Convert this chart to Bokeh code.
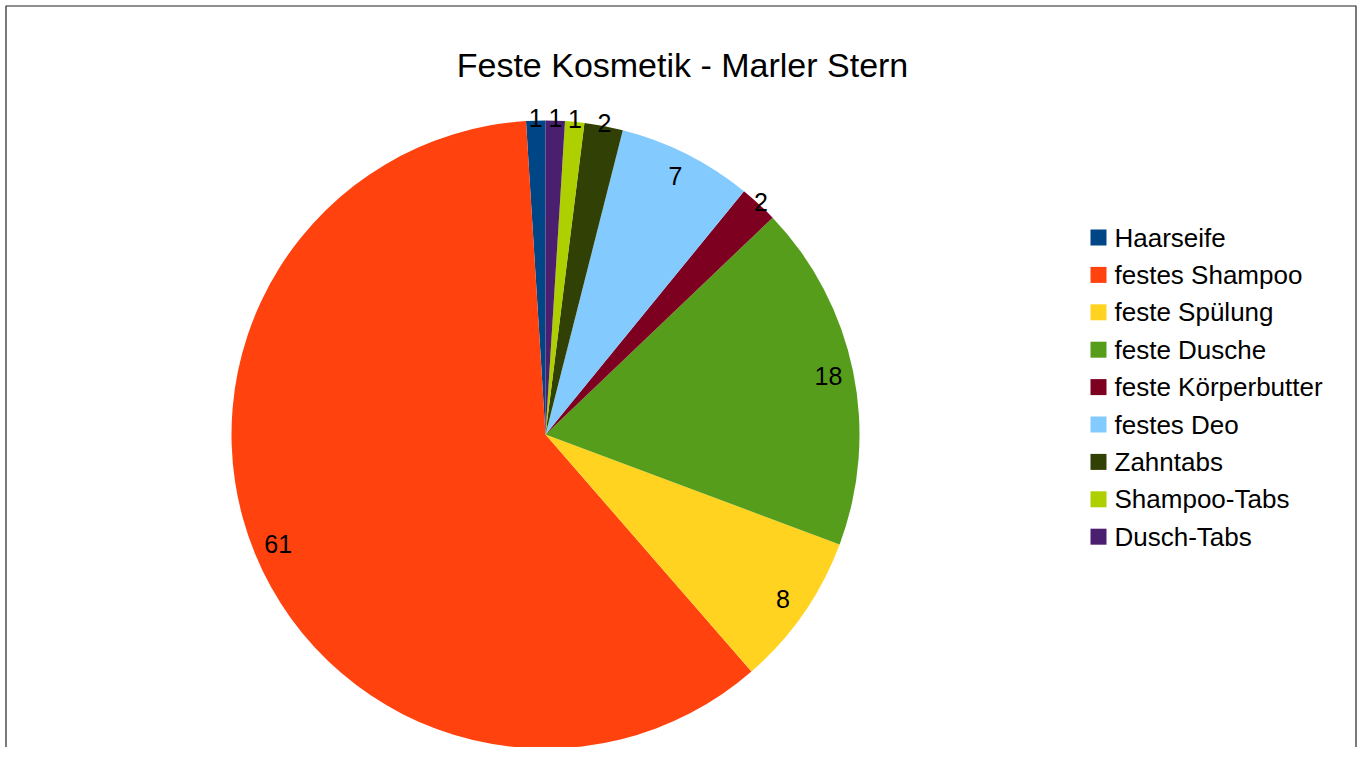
import numpy as np
from bokeh.plotting import figure
from bokeh.models import Range1d, ColumnDataSource
from bokeh.core.properties import value
from bokeh.embed import file_html
from bokeh.resources import INLINE

# ---- data ----
categories = ["Haarseife", "festes Shampoo", "feste Spülung", "feste Dusche",
              "feste Körperbutter", "festes Deo", "Zahntabs", "Shampoo-Tabs", "Dusch-Tabs"]
counts = [1, 61, 8, 18, 2, 7, 2, 1, 1]
colors = ["#004586", "#ff420e", "#ffd320", "#579d1c", "#7e0021",
          "#83caff", "#314004", "#aecf00", "#4b1f6f"]
title_text = "Feste Kosmetik - Marler Stern"

# ---- layout (pixel coordinates, y measured from top) ----
W, H = 1357, 747
TOP = 763
def py(y_px):
    return TOP - y_px

cx, cy = 545, py(434)
R = 314
FONT = "Liberation Sans"

vals = np.array(counts, dtype=float)
frac = vals / vals.sum()
cum = np.concatenate([[0], np.cumsum(frac)])
start = np.pi / 2 + 2 * np.pi * cum[:-1]
end = np.pi / 2 + 2 * np.pi * cum[1:]
mid = (start + end) / 2
lab_r = np.where(vals > 2, 0.92 * R, 1.01 * R)
lab_x = cx + lab_r * np.cos(mid)
lab_y = cy + lab_r * np.sin(mid)

src = ColumnDataSource(dict(cat=categories, val=counts, color=colors,
                            start=start, end=end,
                            lx=lab_x, ly=lab_y,
                            txt=[str(v) for v in counts]))

p = figure(width=W, height=H, output_backend="svg", toolbar_location=None,
           x_range=Range1d(0, W), y_range=Range1d(TOP - H, TOP),
           min_border=0, tools="")
p.axis.visible = False
p.grid.visible = False
p.outline_line_color = None
p.background_fill_color = "white"
p.border_fill_color = "white"

# chart border
p.line([5.5, 5.5, W - 1.5, W - 1.5], [0, py(5.5), py(5.5), 0],
       line_color="#222222", line_width=1.2)

# pie
p.wedge(x=cx, y=cy, radius=R, start_angle="start", end_angle="end",
        direction="anticlock", fill_color="color", line_color=None, source=src)

# data labels
p.text(x="lx", y="ly", text="txt", source=src, text_align="center",
       text_baseline="middle", text_font=value(FONT), text_font_size="25px",
       text_color="black")

# title
p.text(x=[682], y=[py(64)], text=[title_text], text_align="center",
       text_baseline="middle", text_font=value(FONT), text_font_size="34px",
       text_color="black")

# legend
n = len(categories)
leg_y = np.array([237 + 37.4 * i for i in range(n)])
leg_src = ColumnDataSource(dict(x=[1098] * n, y=py(leg_y), ty=py(leg_y),
                                tx=[1114] * n, cat=categories, color=colors))
p.rect(x="x", y="y", width=16, height=16, fill_color="color", line_color=None,
       source=leg_src)
p.text(x="tx", y="ty", text="cat", source=leg_src, text_align="left",
       text_baseline="middle", text_font=value(FONT), text_font_size="26px",
       text_color="black")

open("out.html", "w").write(file_html(p, INLINE))
